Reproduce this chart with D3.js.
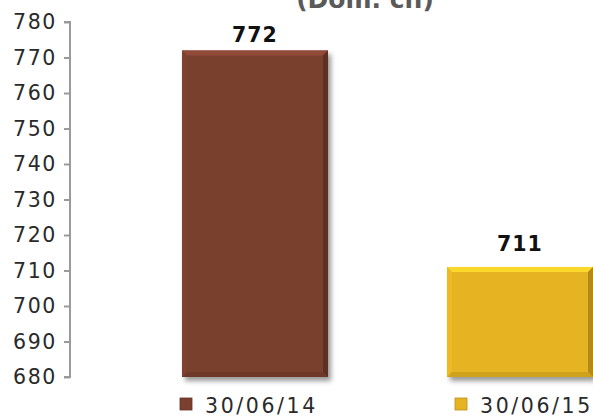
<!DOCTYPE html>
<html><head><meta charset="utf-8">
<script src="https://cdn.jsdelivr.net/npm/d3@7"></script>
<style>
html,body{margin:0;padding:0;background:#fff;overflow:hidden;}
svg{display:block;}
text{font-family:"DejaVu Sans",sans-serif;}
</style></head>
<body>
<svg id="chart" width="593" height="417"></svg>
<script>
const categories = ["30/06/14", "30/06/15"];
const values = [772, 711];
const colors = ["#7A3F2F", "#E6B323"];
const yTicks = [680, 690, 700, 710, 720, 730, 740, 750, 760, 770, 780];
const titleText = "(Dom. ch)";

const svg = d3.select("#chart");

const y = d3.scaleLinear().domain([680, 780]).range([377, 22]);
const x = d3.scaleBand().domain(categories).range([70, 705]).paddingInner(0.449).paddingOuter(0.4226);
const legendX = d3.scalePoint().domain(categories).range([180, 455]);

const defs = svg.append("defs");
const f = defs.append("filter").attr("id", "shadow").attr("x", "-10%").attr("y", "-10%").attr("width", "130%").attr("height", "130%");
f.append("feDropShadow").attr("dx", 3).attr("dy", 4).attr("stdDeviation", 2.5).attr("flood-color", "#000").attr("flood-opacity", 0.4);

// title (partially clipped at top, as in the reference)
svg.append("text").attr("x", 365).attr("y", 8).attr("text-anchor", "middle")
  .attr("font-size", 25).attr("font-weight", "bold").attr("fill", "#5a5a5a").text(titleText);

// axis
const axis = d3.axisLeft(y).tickValues(yTicks).tickSize(6).tickPadding(7).tickFormat(d3.format("d"));
const ag = svg.append("g").attr("transform", "translate(70,0)").call(axis);
ag.select(".domain").attr("stroke", "#9a9a9a").attr("stroke-width", 2).attr("d", `M-6,${y(780)}H0V${y(680)}H-6`);
ag.selectAll(".tick line").attr("stroke", "#9a9a9a").attr("stroke-width", 2);
ag.selectAll(".tick text").attr("font-size", 20.5).attr("fill", "#2a2a2a")
  .attr("font-family", "DejaVu Sans, sans-serif").attr("letter-spacing", 1.6);

// bars with bevel
const bevel = 5;
const bars = svg.append("g");
categories.forEach((c, i) => {
  const x0 = x(c), w = x.bandwidth(), y0 = y(values[i]), y1 = y(680), h = y1 - y0;
  const col = d3.color(colors[i]);
  const g = bars.append("g");
  g.append("rect").attr("x", x0).attr("y", y0).attr("width", w).attr("height", h)
    .attr("fill", colors[i]).attr("filter", "url(#shadow)");
  g.append("path").attr("d", `M${x0},${y0}H${x0+w}L${x0+w-bevel},${y0+bevel}H${x0+bevel}Z`).attr("fill", col.brighter(0.6)).attr("opacity", 0.85);
  g.append("path").attr("d", `M${x0},${y0}L${x0+bevel},${y0+bevel}V${y1-bevel}L${x0},${y1}Z`).attr("fill", col.brighter(0.2)).attr("opacity", 0.5);
  g.append("path").attr("d", `M${x0+w},${y0}L${x0+w-bevel},${y0+bevel}V${y1-bevel}L${x0+w},${y1}Z`).attr("fill", col.darker(0.9)).attr("opacity", 0.85);
  g.append("path").attr("d", `M${x0},${y1}L${x0+bevel},${y1-bevel}H${x0+w-bevel}L${x0+w},${y1}Z`).attr("fill", col.darker(0.5)).attr("opacity", 0.6);
  const ly = Math.max(y0 - 16, 42);
  svg.append("text").attr("x", x0 + w / 2).attr("y", ly).attr("text-anchor", "middle")
    .attr("font-size", 20.5).attr("font-weight", "bold").attr("fill", "#111").attr("letter-spacing", 1).text(values[i]);
});

// legend
categories.forEach((c, i) => {
  const lx = legendX(c);
  const col = d3.color(colors[i]);
  svg.append("rect").attr("x", lx).attr("y", 398).attr("width", 12).attr("height", 12)
    .attr("fill", colors[i]).attr("stroke", col.darker(0.6)).attr("stroke-width", 0.8);
  svg.append("text").attr("x", lx + 25).attr("y", 413).attr("font-size", 20.5).attr("fill", "#2a2a2a")
    .attr("letter-spacing", 2.6).text(c);
});
</script>
</body></html>
